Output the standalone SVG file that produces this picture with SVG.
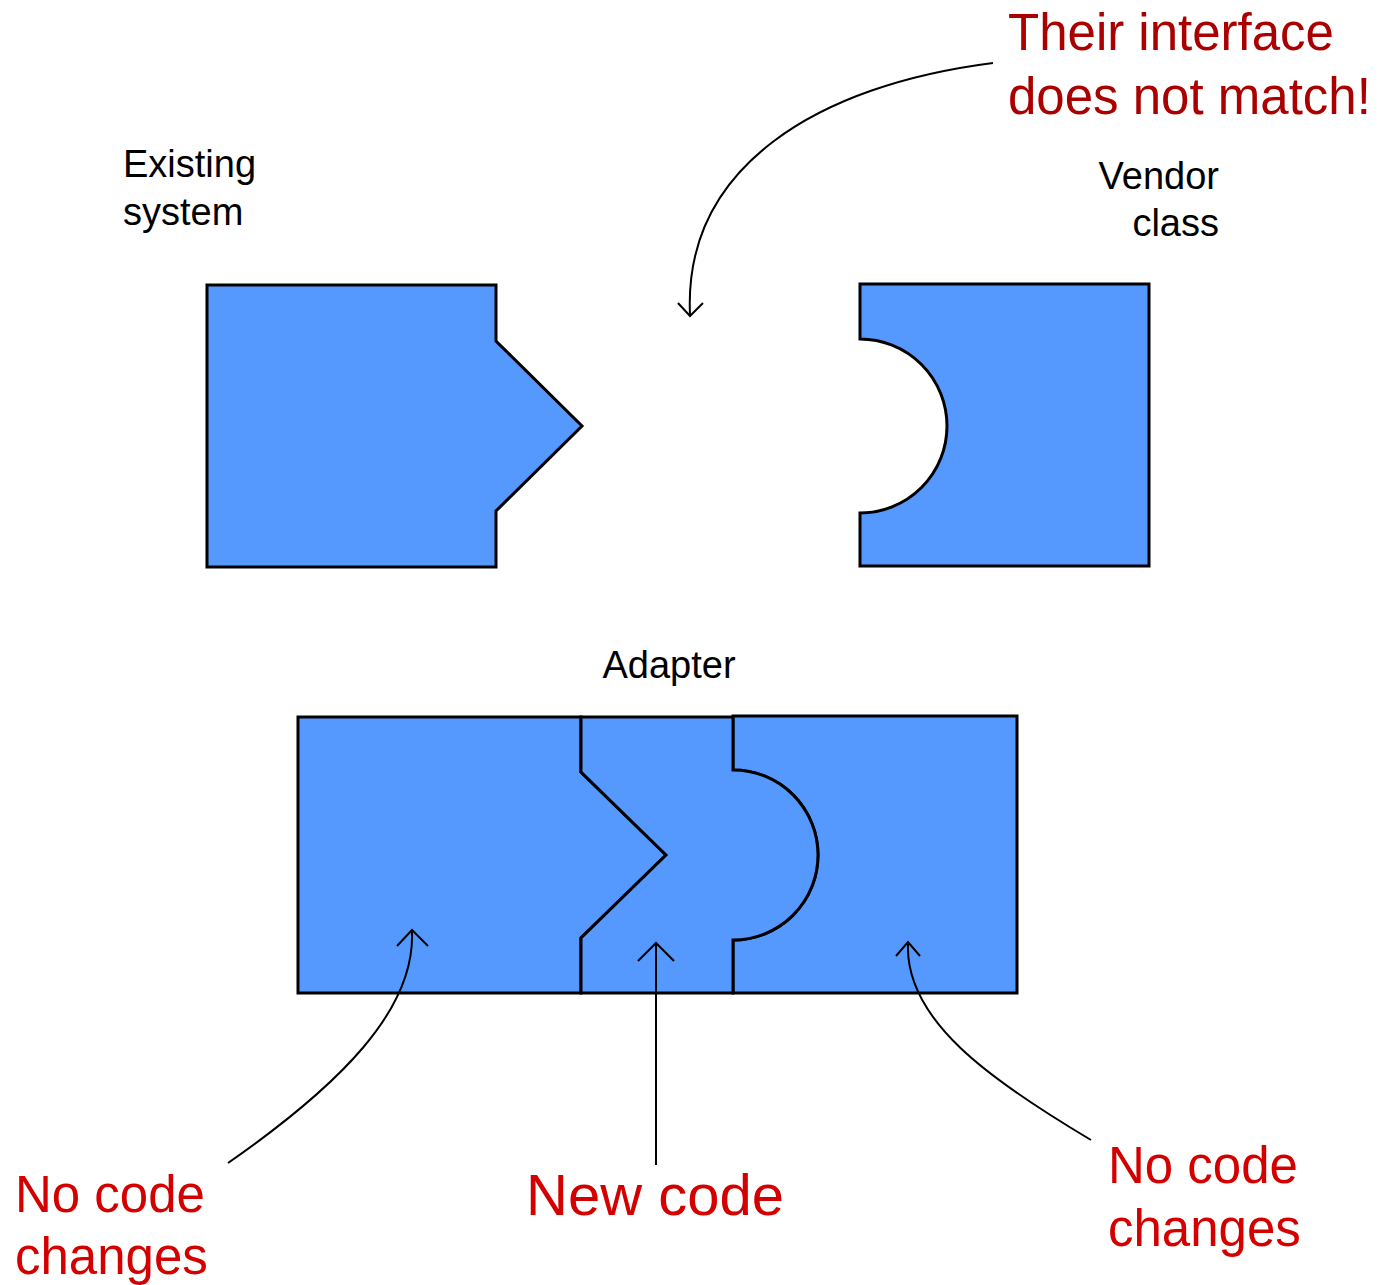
<svg xmlns="http://www.w3.org/2000/svg" width="1378" height="1285" viewBox="0 0 1378 1285">
<style>
.blk{fill:#5599ff;stroke:#000;stroke-width:3;stroke-linejoin:miter}
.lbl{font-family:"Liberation Sans",Arial,sans-serif;font-size:38px;fill:#000}
.ttl{font-family:"Liberation Sans",Arial,sans-serif;font-size:51px;fill:#aa0000}
.note{font-family:"Liberation Sans",Arial,sans-serif;font-size:51px;fill:#d40000}
.big{font-family:"Liberation Sans",Arial,sans-serif;font-size:58px;fill:#d40000}
.con{fill:none;stroke:#000;stroke-width:2}
</style>
<rect width="1378" height="1285" fill="#fff"/>
<g id="existing-system">
<path class="blk" d="M207,285 H496 V341 L582,426 L496,511 V567 H207 Z"/>
<text class="lbl" x="123" y="177">Existing</text>
<text class="lbl" x="123" y="225">system</text>
</g>
<g id="vendor-class">
<path class="blk" d="M860,284 H1149 V566 H860 V513 A87,87 0 0 0 860,339 Z"/>
<text class="lbl" x="1219" y="189" text-anchor="end">Vendor</text>
<text class="lbl" x="1219" y="236" text-anchor="end">class</text>
</g>
<g id="existing-system-2">
<path class="blk" d="M298,717 H581 V772 L666,855 L581,938 V993 H298 Z"/>
</g>
<g id="vendor-class-2">
<path class="blk" d="M733,716 H1017 V993 H733 V940 A85,85 0 0 0 733,770 Z"/>
</g>
<g id="adapter">
<path class="blk" d="M581,717 H733 V770 A85,85 0 0 1 733,940 V993 H581 V938 L666,855 L581,772 Z"/>
<text class="lbl" x="669" y="678" text-anchor="middle">Adapter</text>
</g>
<g id="labels">
<text class="ttl" x="1008" y="50">Their interface</text>
<text class="ttl" x="1008" y="114">does not match!</text>
<text class="note" x="15" y="1212">No code</text>
<text class="note" x="15" y="1274">changes</text>
<text class="big" x="526" y="1215">New code</text>
<text class="note" x="1108" y="1183">No code</text>
<text class="note" x="1108" y="1246">changes</text>
</g>
<g id="connectors">
<path class="con" d="M993,63 C820,85 683,165 690,315"/>
<polyline class="con" points="678,303 690,316 703,303"/>
<path class="con" d="M228,1163 C340,1085 415,1010 412,932"/>
<polyline class="con" points="397,946 412,930 428,946"/>
<path class="con" d="M656,1165 V944"/>
<polyline class="con" points="638,961 656,943 674,961"/>
<path class="con" d="M1091,1140 C990,1080 905,1020 908,944"/>
<polyline class="con" points="896,956 908,942 920,956"/>
</g>
</svg>
